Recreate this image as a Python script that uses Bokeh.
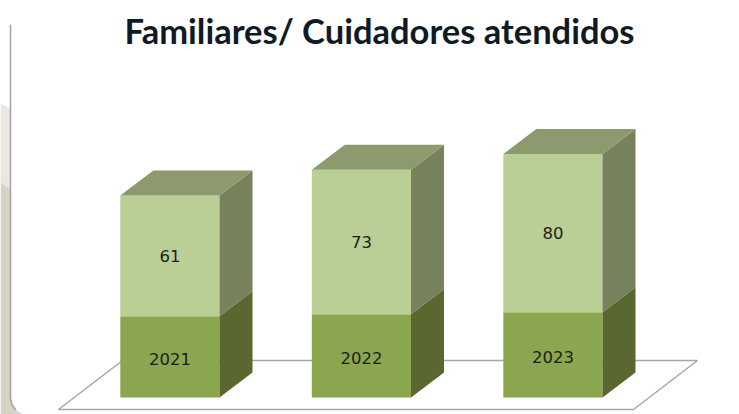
from bokeh.plotting import figure
from bokeh.embed import file_html
from bokeh.resources import INLINE
from bokeh.core.properties import value
from bokeh.models import Range1d
import numpy as np

title = "Familiares/ Cuidadores atendidos"
years = ["2021", "2022", "2023"]
lower = [41, 42, 43]
upper = [61, 73, 80]
positions = [0, 1, 2]

W, H = 739, 414
PX_X, PX_Y = 191.5, 1.98      # pixels per data unit
X0, Y0 = 169.5, 397           # pixel of data origin
BAR = 99 / PX_X
DX, DY = 33 / PX_X, 25 / PX_Y

def fx(px): return (np.asarray(px, float) - X0) / PX_X
def fy(py): return (Y0 - np.asarray(py, float)) / PX_Y

C_FRONT_HI, C_FRONT_LO = "#BACF96", "#8AA64F"
C_TOP, C_SIDE_HI, C_SIDE_LO = "#8C9A6E", "#76825C", "#58682F"

p = figure(width=W, height=H, x_range=Range1d(fx(0), fx(W)), y_range=Range1d(fy(H), fy(0)),
           output_backend="svg", toolbar_location=None, min_border=0,
           outline_line_color=None, background_fill_color="white", border_fill_color="white")
p.axis.visible = False
p.grid.visible = False
p.styles = {"position": "absolute", "left": "0", "top": "0"}

# backdrop behind the rounded white panel
p.patch(fx([0, 12, 12, 0]), fy([103, 109, 190, 182]), fill_color="#E9E7DF", line_color=None)
p.patch(fx([0, 12, 30, 0]), fy([182, 190, 414, 414]), fill_color="#D6D2C6", line_color=None)
t = np.linspace(0, np.pi / 2, 12)
cx = 10 + 16 * (1 - np.cos(t))
cy = 396 + 18 * np.sin(t)
p.patch(fx(np.r_[10, cx, 40, 40]), fy(np.r_[24, cy, 414, 24]), fill_color="white", line_color=None)
p.line(fx(np.r_[10, cx[:7]]), fy(np.r_[24, cy[:7]]), line_color="#A3A3A3", line_width=1.5)

# floor of the 3-D chart
p.patch(fx([58, 633, 697, 122]), fy([409, 409, 360, 360]), fill_color="white",
        line_color="#A6A6A6", line_width=1.5)

for i, year, lo, up in zip(positions, years, lower, upper):
    l, r = i - BAR / 2 - 0.001, i + BAR / 2
    total = lo + up
    # front faces
    p.quad(left=l, right=r, bottom=0, top=lo, fill_color=C_FRONT_LO, line_color=None)
    p.quad(left=l, right=r, bottom=lo, top=total, fill_color=C_FRONT_HI, line_color=None)
    # side faces
    p.patch([r, r + DX, r + DX, r], [0, DY, lo + DY, lo], fill_color=C_SIDE_LO, line_color=None)
    p.patch([r, r + DX, r + DX, r], [lo, lo + DY, total + DY, total], fill_color=C_SIDE_HI, line_color=None)
    # top face
    p.patch([l, r, r + DX, l + DX], [total, total, total + DY, total + DY], fill_color=C_TOP, line_color=None)
    # labels
    p.text([i], [lo / 2 - 1], text=[year], text_align="center", text_baseline="middle",
           text_font=value("DejaVu Sans"), text_font_size="16.5px", text_color="#1C1E16")
    p.text([i], [lo + up / 2], text=[str(up)], text_align="center", text_baseline="middle",
           text_font=value("DejaVu Sans"), text_font_size="16.5px", text_color="#1C1E16")

p.text([fx(379)], [fy(30)], text=[title], text_align="center", text_baseline="middle",
       text_font=value("Lato"), text_font_style="bold", text_font_size="34.5px", text_color="#0F1A24")

open("out.html", "w").write(file_html(p, INLINE))
